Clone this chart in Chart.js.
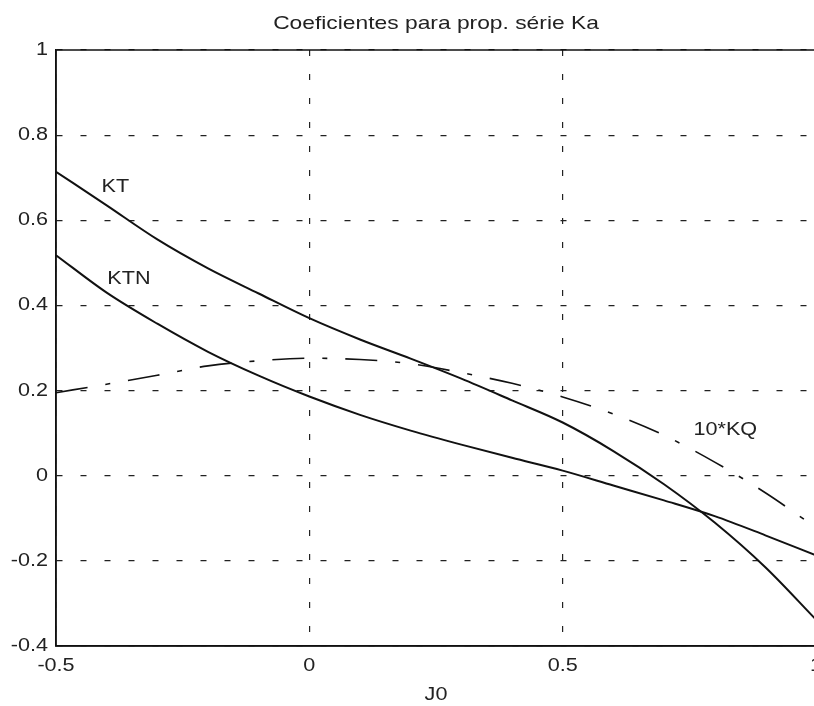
<!DOCTYPE html>
<html>
<head>
<meta charset="utf-8">
<script src="https://cdn.jsdelivr.net/npm/chart.js@4"></script>
<style>
    html, body { margin: 0; padding: 0; background: #fff; overflow: hidden; }
    #wrap { width: 830px; height: 706px; }
</style>
</head>
<body>
<div id="wrap"><canvas id="chart" width="830" height="706"></canvas></div>
<script>
// J0 values along the x axis
const jValues = [-0.5, -0.4, -0.3, -0.2, -0.1, 0, 0.1, 0.2, 0.3, 0.4, 0.5, 0.6, 0.7, 0.8, 0.9, 1.0];

const ktValues = [0.714, 0.635, 0.555, 0.487, 0.428, 0.370, 0.320, 0.275, 0.228, 0.177, 0.125, 0.058, -0.020, -0.110, -0.215, -0.338];
const ktnValues = [0.518, 0.430, 0.357, 0.291, 0.235, 0.186, 0.143, 0.106, 0.073, 0.042, 0.012, -0.023, -0.058, -0.095, -0.140, -0.187];
const kq10Values = [0.195, 0.215, 0.236, 0.258, 0.270, 0.276, 0.273, 0.263, 0.242, 0.217, 0.185, 0.145, 0.095, 0.032, -0.040, -0.122];

const xTicks = [-0.5, 0, 0.5, 1];
const yTicks = [1, 0.8, 0.6, 0.4, 0.2, 0, -0.2, -0.4];

const chartTitle = 'Coeficientes para prop. série Ka';
const xTitle = 'J0';

// curve labels placed in data coordinates
const curveLabels = [
    { text: 'KT', x: -0.383, y: 0.677 },
    { text: 'KTN', x: -0.356, y: 0.461 },
    { text: '10*KQ', x: 0.821, y: 0.107 }
];

const toPoints = (vals) => vals.map((v, i) => ({ x: jValues[i], y: v }));

const fmt = (v) => String(Number(v.toFixed(1)));

// the original text is a bit wide, so stretch it sideways
const STRETCH = 1.2;
const drawText = (ctx, text, x, y, align) => {
    ctx.save();
    ctx.translate(x, y);
    ctx.scale(STRETCH, 1);
    ctx.textAlign = align || 'center';
    ctx.fillText(text, 0, 0);
    ctx.restore();
};

const extras = {
    id: 'extras',
    afterDraw(chart) {
        const { ctx, chartArea, scales } = chart;
        const midX = (chartArea.left + chartArea.right) / 2;
        ctx.save();
        // box around the plot
        ctx.strokeStyle = '#111';
        ctx.lineWidth = 1.5;
        ctx.setLineDash([]);
        ctx.strokeRect(chartArea.left, chartArea.top, chartArea.right - chartArea.left, chartArea.bottom - chartArea.top);

        ctx.fillStyle = '#222';
        ctx.textBaseline = 'middle';
        ctx.font = '19px "Liberation Sans", Arial, sans-serif';
        drawText(ctx, chartTitle, midX, 24);

        ctx.font = '18px "Liberation Sans", Arial, sans-serif';
        drawText(ctx, xTitle, midX, 695);

        xTicks.forEach((v) => {
            drawText(ctx, fmt(v), scales.x.getPixelForValue(v), 666);
        });
        yTicks.forEach((v) => {
            drawText(ctx, fmt(v), chartArea.left - 8, scales.y.getPixelForValue(v), 'right');
        });

        curveLabels.forEach((lab) => {
            drawText(ctx, lab.text, scales.x.getPixelForValue(lab.x), scales.y.getPixelForValue(lab.y));
        });
        ctx.restore();
    }
};

const chartEl = document.getElementById('chart');

const propChart = new Chart(chartEl, { // eslint-disable-line
    type: 'line',
    data: {
        datasets: [
            {
                label: 'KT',
                data: toPoints(ktValues),
                borderColor: '#111',
                borderWidth: 2,
                pointRadius: 0,
                cubicInterpolationMode: 'monotone'
            },
            {
                label: 'KTN',
                data: toPoints(ktnValues),
                borderColor: '#111',
                borderWidth: 2,
                pointRadius: 0,
                cubicInterpolationMode: 'monotone'
            },
            {
                label: '10*KQ',
                data: toPoints(kq10Values),
                borderColor: '#111',
                borderWidth: 1.6,
                borderDash: [32, 18, 5, 18],
                pointRadius: 0,
                cubicInterpolationMode: 'monotone'
            }
        ]
    },
    options: {
        responsive: false,
        animation: false,
        layout: {
            padding: { left: 0, top: 50, right: 14, bottom: 0 }
        },
        plugins: {
            legend: { display: false },
            title: { display: false },
            tooltip: { enabled: false }
        },
        scales: {
            x: {
                type: 'linear',
                min: -0.5,
                max: 1,
                afterBuildTicks: (scale) => { scale.ticks = xTicks.map(v => ({ value: v })); },
                afterFit: (scale) => { scale.height = 60; },
                ticks: { display: false },
                grid: { color: '#222', lineWidth: 1.2, drawTicks: false },
                border: { display: true, color: '#111', width: 1.5, dash: [6, 18] }
            },
            y: {
                type: 'linear',
                min: -0.4,
                max: 1,
                afterBuildTicks: (scale) => { scale.ticks = yTicks.map(v => ({ value: v })); },
                afterFit: (scale) => { scale.width = 56; },
                ticks: { display: false },
                grid: { color: '#222', lineWidth: 1.2, drawTicks: false },
                border: { display: true, color: '#111', width: 1.5, dash: [6, 18] }
            }
        }
    },
    plugins: [extras]
});
</script>
</body>
</html>
